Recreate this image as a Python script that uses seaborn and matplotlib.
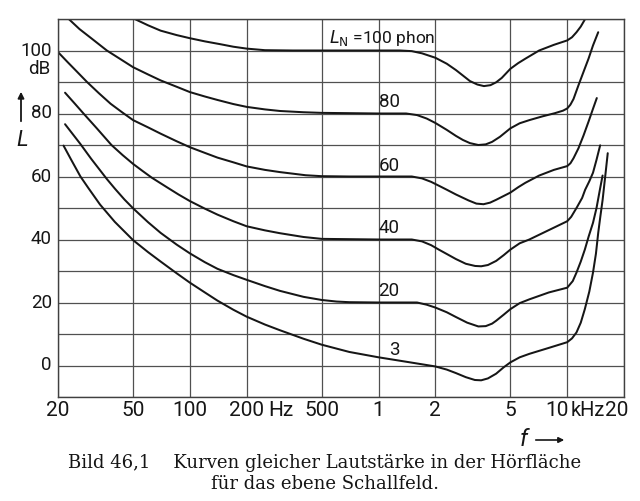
import numpy as np
import pandas as pd
import matplotlib
matplotlib.use("Agg")
import matplotlib.pyplot as plt
import seaborn as sns
from matplotlib.ticker import NullLocator, FixedLocator

# ---------------- data ----------------
f100 = [51, 60, 70, 85, 100, 120, 145, 170, 200, 250, 350, 500, 1000, 1300, 1500, 1700,
        2000, 2300, 2570, 2780, 3050, 3340, 3620, 3920, 4200, 4500, 5000, 5500, 6000,
        7100, 8500, 10000, 10600, 11200, 11800, 12450]
L100 = [110, 108.0, 106.3, 104.9, 103.9, 102.9, 102.0, 101.2, 100.6, 100.1, 100, 100, 100, 100, 99.8, 99.1,
        97.7, 95.8, 93.8, 92.2, 90.3, 89.2, 88.7, 89.0, 89.9, 91.3, 94.2, 96.0, 97.4,
        100, 101.8, 103.2, 104.2, 105.8, 107.6, 110]

f80 = [22.8, 26, 30, 36.3, 43, 50, 60, 70, 85, 100, 120, 140, 170, 200, 250, 300, 400, 500,
       1000, 1400, 1600, 1800, 2000, 2300, 2570, 2800, 3050, 3380, 3700, 4000, 4400, 5000,
       5600, 6300, 7400, 8600, 9500, 10000, 10400, 10800, 11480, 12200, 12970, 13700, 14600]
L80 = [110, 106.8, 103.9, 100, 97.2, 94.7, 92.4, 90.5, 88.5, 86.8, 85.4, 84.3, 83.0, 82.1, 81.3, 80.8, 80.4, 80.2,
       80, 80, 79.5, 78.4, 77.0, 74.8, 72.9, 71.6, 70.6, 70.0, 70.2, 71.0, 72.6, 75.3,
       76.9, 77.9, 79.1, 80.1, 80.9, 81.6, 82.8, 84.6, 89, 93.2, 97.4, 101.6, 105.8]

f60 = [20, 22.5, 25, 28.5, 33, 38, 43.7, 50, 60, 70, 85, 100, 120, 140, 170, 200, 250, 300,
       411, 500, 700, 1000, 1500, 1700, 1900, 2100, 2300, 2570, 3000, 3300, 3600, 3900,
       4200, 4600, 5000, 5500, 6000, 7100, 8500, 10000, 10400, 10800, 11480, 12200,
       12970, 13700, 14350]
L60 = [99.5, 96.3, 93.5, 90.0, 86.4, 83.1, 80.4, 77.9, 75.6, 73.6, 71.2, 69.3, 67.5, 66.0, 64.5, 63.2, 62.1, 61.4,
       60.4, 60.1, 60, 60, 60, 59.4, 58.3, 57.0, 55.8, 54.3, 52.4, 51.4, 51.2, 51.7,
       52.6, 53.8, 54.9, 56.6, 58.0, 60.3, 62.1, 63.3, 64.2, 65.8, 69.0, 73.0,
       77.4, 81.5, 84.9]

f40 = [21.8, 24.5, 27.3, 32, 38.4, 44, 50, 56, 62.9, 75.5, 87, 100, 120, 140, 170, 200, 250,
       300, 400, 500, 1000, 1500, 1700, 1900, 2100, 2300, 2570, 2900, 3250, 3500, 3800,
       4200, 4600, 5000, 5600, 6300, 8000, 10000, 10500, 11250, 12000, 12450, 13100,
       13700, 14300, 14950]
L40 = [86.6, 83.2, 80.0, 75.4, 70.0, 66.8, 64.0, 61.8, 59.6, 56.6, 54.3, 52.2, 49.8, 47.9, 45.8, 44.2, 42.9,
       42.0, 40.8, 40.2, 40, 40, 39.4, 38.2, 36.7, 35.4, 33.8, 32.3, 31.6, 31.5, 31.9,
       33.2, 35.0, 36.8, 38.8, 40, 43.0, 45.8, 47.2, 50.2, 53.2, 55.8, 58.5,
       61.2, 65.3, 69.9]

f20 = [21.8, 26.3, 30, 36.3, 40.1, 45, 50, 60, 70, 85, 100, 120, 140, 170, 200, 250, 300,
       400, 500, 600, 700, 1000, 1600, 1800, 2000, 2300, 2570, 2950, 3380, 3700, 4000,
       4200, 4600, 5000, 5600, 6300, 8000, 10000, 10700, 11200, 11800, 12400, 13000,
       13700, 14300, 14900, 15400]
L20 = [76.6, 70.3, 65.6, 59.2, 56.1, 52.7, 49.9, 45.5, 42.1, 38.4, 35.6, 32.8, 30.7, 28.7, 27.2, 25.2, 23.7,
       21.8, 20.8, 20.3, 20.1, 20, 20, 19.3, 18.4, 16.9, 15.4, 13.6, 12.4, 12.5, 13.3,
       14.2, 16.1, 17.9, 19.8, 21, 23.2, 24.7, 26.8, 29.5, 33, 36.8, 41,
       45.3, 50, 55.8, 60.3]

f3 = [21.4, 23.5, 26.3, 29, 33.4, 40, 50, 60, 70, 85, 100, 120, 140, 170, 200, 250, 300,
      400, 500, 700, 1000, 1400, 2000, 2300, 2570, 2900, 3240, 3500, 3800, 4200, 4600,
      5000, 5600, 6300, 8000, 10000, 10600, 11200, 11800, 12400, 13100, 13700, 14200,
      14600, 15000, 15400, 15900, 16400]
L3 = [69.8, 65.3, 60.0, 56.3, 51.1, 45.6, 39.8, 36.0, 33.0, 29.3, 26.3, 23.2, 20.6, 17.7, 15.5, 13.0, 11.2,
      8.5, 6.6, 4.3, 2.6, 1.2, -0.3, -1.3, -2.4, -3.7, -4.6, -4.7, -4.1, -2.6, -0.6,
      1.0, 2.6, 3.7, 5.6, 7.4, 8.6, 10.5, 13.6, 17.9, 23.5, 29.5, 35.5,
      42.1, 47.5, 52.5, 60.0, 67.4]

grid_freqs = [20, 50, 100, 200, 500, 1000, 2000, 5000, 10000, 20000]
x_tick_labels = ["20", "50", "100", "200", "500", "1", "2", "5", "10", "20"]
y_tick_values = [0, 20, 40, 60, 80, 100]
y_tick_labels = ["0", "20", "40", "60", "80", "100"]

curve_labels = ["80", "60", "40", "20", "3"]
curve_label_f = [1000, 1000, 1000, 1000, 1140]
curve_label_L = [83.7, 63.2, 43.6, 23.7, 4.8]

caption1 = "Bild 46,1    Kurven gleicher Lautstärke in der Hörfläche"
caption2 = "für das ebene Schallfeld."

# ---------------- figure ----------------
sns.set_style("white")
plt.rcParams['font.family'] = ['Roboto', 'DejaVu Sans']
plt.rcParams['mathtext.fontset'] = 'dejavusans'

W, H = 640, 501
fig = plt.figure(figsize=(W / 100, H / 100), dpi=100)
fig.patch.set_facecolor('white')
ax = fig.add_axes([58 / W, 1 - 397 / H, (624 - 58) / W, (397 - 19) / H])

curves = [("100", f100, L100), ("80", f80, L80), ("60", f60, L60),
          ("40", f40, L40), ("20", f20, L20), ("3", f3, L3)]
df = pd.concat([pd.DataFrame({"f": f, "L": L, "phon": n}) for n, f, L in curves],
               ignore_index=True)

sns.lineplot(data=df, x="f", y="L", units="phon", estimator=None, sort=False,
             color="#161616", lw=1.45, ax=ax, legend=False)
for ln in ax.get_lines():
    ln.set_solid_joinstyle("round")
    ln.set_solid_capstyle("round")

ax.set_xscale("log")
ax.set_xlim(20, 20000)
ax.set_ylim(-10, 110)
ax.xaxis.set_major_locator(FixedLocator(grid_freqs))
ax.xaxis.set_minor_locator(NullLocator())
ax.yaxis.set_major_locator(FixedLocator(list(range(-10, 111, 10))))
ax.yaxis.set_minor_locator(NullLocator())
ax.set_xticklabels([])
ax.set_yticklabels([])
ax.tick_params(length=0)
ax.set_xlabel("")
ax.set_ylabel("")
ax.grid(True, color="#505050", lw=0.9)
ax.set_axisbelow(True)
for s in ax.spines.values():
    s.set_color("#404040")
    s.set_linewidth(1.0)

tick_font = 15
lab_font = 13.5
txt_col = "#161616"

# x tick labels
for fval, lab in zip(grid_freqs, x_tick_labels):
    dx = -10 if lab == "10" else (-7 if fval == 20000 else 0)
    ax.annotate(lab, xy=(fval, 0), xycoords=("data", "axes fraction"),
                xytext=(dx, -14), textcoords="offset pixels",
                ha="center", va="center", fontsize=tick_font, color=txt_col)
ax.annotate("Hz", xy=(303, 0), xycoords=("data", "axes fraction"),
            xytext=(0, -14), textcoords="offset pixels",
            ha="center", va="center", fontsize=tick_font, color=txt_col)
ax.annotate("kHz", xy=(12660, 0), xycoords=("data", "axes fraction"),
            xytext=(1, -14), textcoords="offset pixels",
            ha="center", va="center", fontsize=tick_font - 0.5, color=txt_col)

# y tick labels
for v, lab in zip(y_tick_values, y_tick_labels):
    ax.annotate(lab, xy=(0, v), xycoords=("axes fraction", "data"),
                xytext=(-6, 0), textcoords="offset pixels",
                ha="right", va="center", fontsize=lab_font, color=txt_col)
ax.annotate("dB", xy=(0, 100), xycoords=("axes fraction", "data"),
            xytext=(-19, -18), textcoords="offset pixels",
            ha="center", va="center", fontsize=lab_font, color=txt_col)

# axis symbols
ax.annotate("", xy=(21, H - 89), xycoords="figure pixels",
            xytext=(21, H - 124), textcoords="figure pixels",
            arrowprops=dict(arrowstyle="-|>", lw=1.3, color=txt_col, mutation_scale=9))
fig.text(22 / W, 1 - 141 / H, "L", fontsize=16, style="italic",
         ha="center", va="center", color=txt_col)
fig.text(524 / W, 1 - 440 / H, "f", fontsize=17, style="italic",
         ha="center", va="center", color=txt_col)
ax.annotate("", xy=(567, H - 440), xycoords="figure pixels",
            xytext=(533, H - 440), textcoords="figure pixels",
            arrowprops=dict(arrowstyle="-|>", lw=1.2, color=txt_col, mutation_scale=8))

# curve labels
ax.annotate(r"$L_\mathrm{N}$ =100 phon", xy=(549, 104.1), xycoords="data",
            ha="left", va="center", fontsize=12.5, color=txt_col)
for lab, fv, lv in zip(curve_labels, curve_label_f, curve_label_L):
    ax.annotate(lab, xy=(fv, lv), xycoords="data", ha="left", va="center",
                fontsize=lab_font, color=txt_col)

# caption
fig.text(325 / W, 1 - 463 / H, caption1, ha="center", va="center",
         fontsize=13, family=["DejaVu Serif"], color="#151515")
fig.text(325 / W, 1 - 484 / H, caption2, ha="center", va="center",
         fontsize=13, family=["DejaVu Serif"], color="#151515")

fig.savefig("out.png", dpi=100, facecolor="white")
